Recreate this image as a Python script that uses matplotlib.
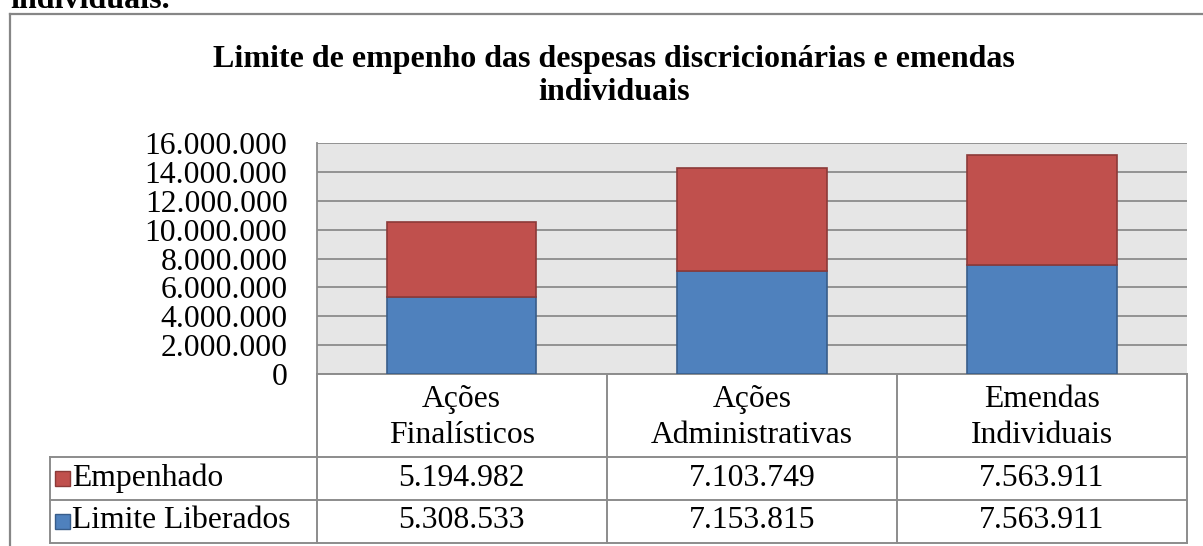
import matplotlib.pyplot as plt
from matplotlib.lines import Line2D
from matplotlib.patches import Rectangle

plt.rcParams['font.family'] = ['Liberation Serif', 'DejaVu Serif']

categories = ["Ações\nFinalísticos", "Ações\nAdministrativas", "Emendas\nIndividuais"]
series_names = ["Empenhado", "Limite Liberados"]
empenhado = [5194982, 7103749, 7563911]
limite = [5308533, 7153815, 7563911]
yticks = [0, 2000000, 4000000, 6000000, 8000000, 10000000, 12000000, 14000000, 16000000]

RED = "#C0504D"
RED_EDGE = "#8C3A38"
BLUE = "#4F81BD"
BLUE_EDGE = "#385D8A"
GRID = "#8C8C8C"
FS = 22.8

W, H = 1203, 546
fig = plt.figure(figsize=(W / 100, H / 100), dpi=100)


def fmt(v):
    return f"{v:,.0f}".replace(",", ".")


# outer chart frame (cut off at right and bottom)
fig.add_artist(Line2D([10 / W, 1.0], [1 - 14 / H] * 2, transform=fig.transFigure,
                      color="#868686", lw=1.6))
fig.add_artist(Line2D([10 / W] * 2, [1 - 14 / H, 0], transform=fig.transFigure,
                      color="#868686", lw=1.6))

# caption fragment above the chart
fig.text(10 / W, 1 - 8 / H, "individuais.", fontsize=23, fontweight="bold",
         ha="left", va="baseline")

# title
fig.text(614 / W, 1 - 76 / H,
         "Limite de empenho das despesas discricionárias e emendas\nindividuais",
         fontsize=23, fontweight="bold", ha="center", va="center", linespacing=1.22)

left, top, right, bottom = 316.7, 142.7, 1187.0, 374.3
ax = fig.add_axes([left / W, 1 - bottom / H, (right - left) / W, (bottom - top) / H])
ax.set_facecolor("#E6E6E6")

x = list(range(len(categories)))
ax.bar(x, limite, width=0.515, color=BLUE, edgecolor=BLUE_EDGE, linewidth=1.2, zorder=3)
ax.bar(x, empenhado, width=0.515, bottom=limite, color=RED, edgecolor=RED_EDGE,
       linewidth=1.2, zorder=3)

ax.set_xlim(-0.5, len(categories) - 0.5)
ax.set_ylim(0, 16000000)
ax.set_yticks(yticks)
ax.set_yticklabels([fmt(v) for v in yticks], fontsize=FS)
ax.tick_params(axis="y", length=0, pad=21)
ax.set_xticks([])
ax.yaxis.grid(True, color=GRID, lw=1.3, zorder=1)
ax.set_axisbelow(True)
for s in ["top", "right", "bottom"]:
    ax.spines[s].set_visible(False)
ax.spines["left"].set_color(GRID)
ax.spines["left"].set_linewidth(1.3)

# data table under the plot (axes fraction y, data x)
plot_h = bottom - top


def ay(ypix):
    return -(ypix - bottom) / plot_h


rows_y = [bottom, 456.5, 499.5, 542.5]
ya = [ay(v) for v in rows_y]
x_left = (50 - left) / (right - left) * len(categories) - 0.5
tr = ax.get_xaxis_transform()
lk = dict(transform=tr, color=GRID, lw=1.4, clip_on=False)

# horizontal lines
ax.add_line(Line2D([-0.5, 2.5], [ya[0]] * 2, **lk))
for yl in ya[1:]:
    ax.add_line(Line2D([x_left, 2.5], [yl] * 2, **lk))
# vertical lines
for xv in [-0.5, 0.5, 1.5, 2.5]:
    ax.add_line(Line2D([xv, xv], [ya[0], ya[3]], **lk))
ax.add_line(Line2D([x_left, x_left], [ya[1], ya[3]], **lk))

for i, c in enumerate(categories):
    ax.text(i, ay(417.5), c, transform=tr, ha="center",
            va="center", fontsize=FS, linespacing=1.3)

row_vals = [empenhado, limite]
row_cols = [(RED, RED_EDGE), (BLUE, BLUE_EDGE)]
px_per_x = (right - left) / len(categories)
for r in range(2):
    yc = (ya[r + 1] + ya[r + 2]) / 2
    for i, v in enumerate(row_vals[r]):
        ax.text(i, yc, fmt(v), transform=tr, ha="center", va="center", fontsize=FS)
    # legend key square
    sq = 15 / px_per_x
    sqh = 15 / plot_h
    ax.add_patch(Rectangle((x_left + 5 / px_per_x, yc - sqh / 2), sq, sqh, transform=tr,
                           facecolor=row_cols[r][0], edgecolor=row_cols[r][1], lw=1,
                           clip_on=False))
    ax.text(x_left + 22 / px_per_x, yc, series_names[r], transform=tr, ha="left",
            va="center", fontsize=FS)

fig.savefig("out.png", dpi=100)
